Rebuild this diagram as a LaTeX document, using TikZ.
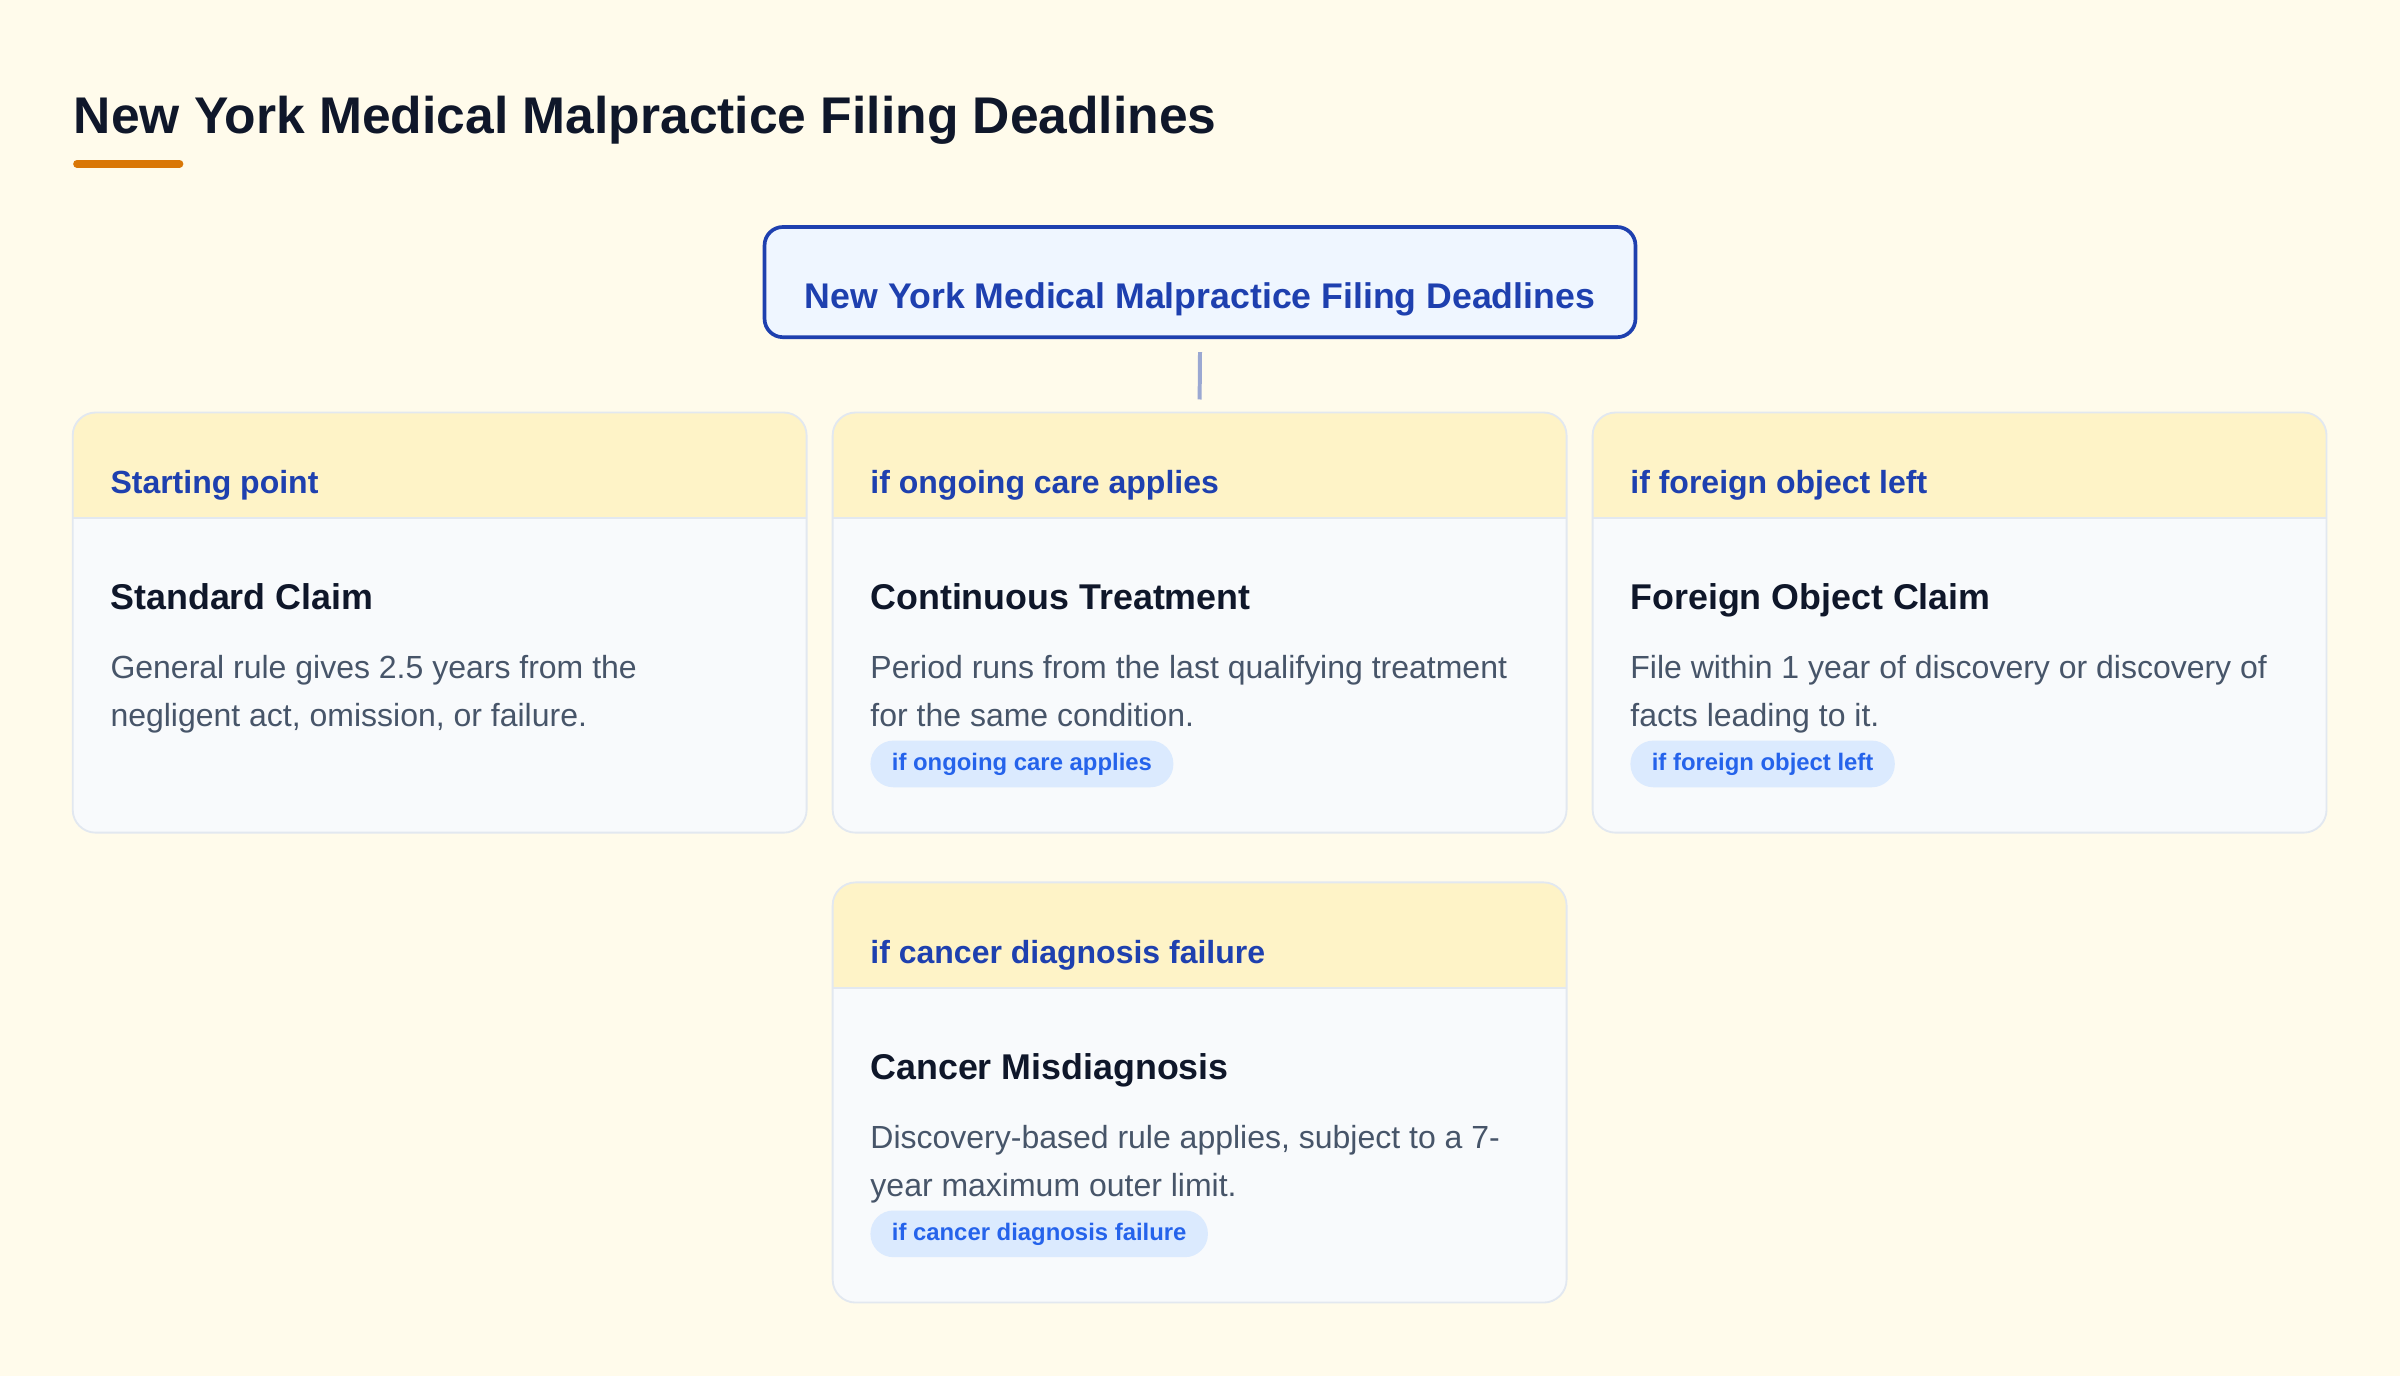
\documentclass[tikz,border=0pt]{standalone}
\usepackage{fontspec}
\setmainfont{Liberation Sans}
\definecolor{bgc}{HTML}{FFFBEB}
\definecolor{hdrc}{HTML}{FEF3C7}
\definecolor{bodyc}{HTML}{F8FAFC}
\definecolor{bordc}{HTML}{E2E8F0}
\definecolor{topfill}{HTML}{EFF6FF}
\definecolor{navy}{HTML}{1E40AF}
\definecolor{darktxt}{HTML}{0F172A}
\definecolor{bodytxt}{HTML}{475569}
\definecolor{pillc}{HTML}{DBEAFE}
\definecolor{pilltxt}{HTML}{2563EB}
\definecolor{orangec}{HTML}{D97706}
\definecolor{connc}{HTML}{9BA8D2}
\newcommand\mycard[7]{%
  \node[card] (#1) at ({#2+239.75},{#3+137.25}) {};
  \draw[bordc, line width=1.2pt] ([yshift=-69pt]#1.north west) -- ([yshift=-69pt]#1.north east);
  \draw[bordc, line width=1.2pt, rounded corners=15pt] (#1.north west) rectangle (#1.south east);
  \node[hdrtxt] (#1h) at ({#2+24.5},{#3+53}) {#4};
  \node[cardtitle] (#1t) at ({#2+24.5},{#3+129}) {#5};
  \node[bodytext] (#1a) at ({#2+24.5},{#3+174}) {#6};
  \node[bodytext] (#1b) at ({#2+24.5},{#3+205}) {#7};
}
\begin{document}
\begin{tikzpicture}[x=1pt,y=-1pt,
  card/.style={fill=bodyc, rounded corners=15pt, minimum width=479.5pt, minimum height=274.5pt,
    inner sep=0pt, outer sep=0pt,
    path picture={\fill[hdrc, sharp corners] (path picture bounding box.north west) rectangle ([yshift=-69pt]path picture bounding box.north east);}},
  hdrtxt/.style={anchor=base west, inner sep=0pt, text=navy, font=\fontsize{20.9}{25}\selectfont\bfseries},
  cardtitle/.style={anchor=base west, inner sep=0pt, text=darktxt, font=\fontsize{23.4}{28}\selectfont\bfseries},
  bodytext/.style={anchor=base west, inner sep=0pt, text=bodytxt, font=\fontsize{20.9}{25}\selectfont},
  pill/.style={anchor=west, fill=pillc, text=pilltxt, rounded corners=15pt, minimum height=30.5pt,
    inner xsep=14pt, inner ysep=0pt, text height=11pt, text depth=2pt, font=\fontsize{15.6}{18}\selectfont\bfseries},
  topbox/.style={draw=navy, line width=2.4pt, fill=topfill, rounded corners=12pt, minimum width=569pt,
    minimum height=72pt, inner sep=0pt, text height=34.3pt, text depth=0pt, text=navy,
    font=\fontsize{23.3}{28}\selectfont\bfseries},
  conn/.style={draw=connc, line width=2.6pt}
]
\fill[bgc] (0,0) rectangle (1568,899);
\useasboundingbox (0,0) rectangle (1568,899);

\node[anchor=base west, inner sep=0pt, text=darktxt, font=\fontsize{33.7}{40}\selectfont\bfseries] (title) at (48,87.1) {New York Medical Malpractice Filing Deadlines};
\draw[orangec, line width=5pt, line cap=round] (50.3,107) -- (117.3,107);

\node[topbox] (top) at (784,184.3) {New York Medical Malpractice Filing Deadlines};

\mycard{c1}{47.5}{269.5}{Starting point}{Standard Claim}{General rule gives 2.5 years from the}{negligent act, omission, or failure.}
\mycard{c2}{544}{269.5}{if ongoing care applies}{Continuous Treatment}{Period runs from the last qualifying treatment}{for the same condition.}
\mycard{c3}{1040.5}{269.5}{if foreign object left}{Foreign Object Claim}{File within 1 year of discovery or discovery of}{facts leading to it.}
\mycard{c4}{544}{576.5}{if cancer diagnosis failure}{Cancer Misdiagnosis}{Discovery-based rule applies, subject to a 7-}{year maximum outer limit.}

\node[pill] (p2) at (568.5,499.1) {if ongoing care applies};
\node[pill] (p3) at (1065,499.1) {if foreign object left};
\node[pill] (p4) at (568.5,806.1) {if cancer diagnosis failure};

\draw[conn] ([yshift=-8.5pt]top.south) -- ([yshift=8.5pt]c2.north);
\end{tikzpicture}
\end{document}
